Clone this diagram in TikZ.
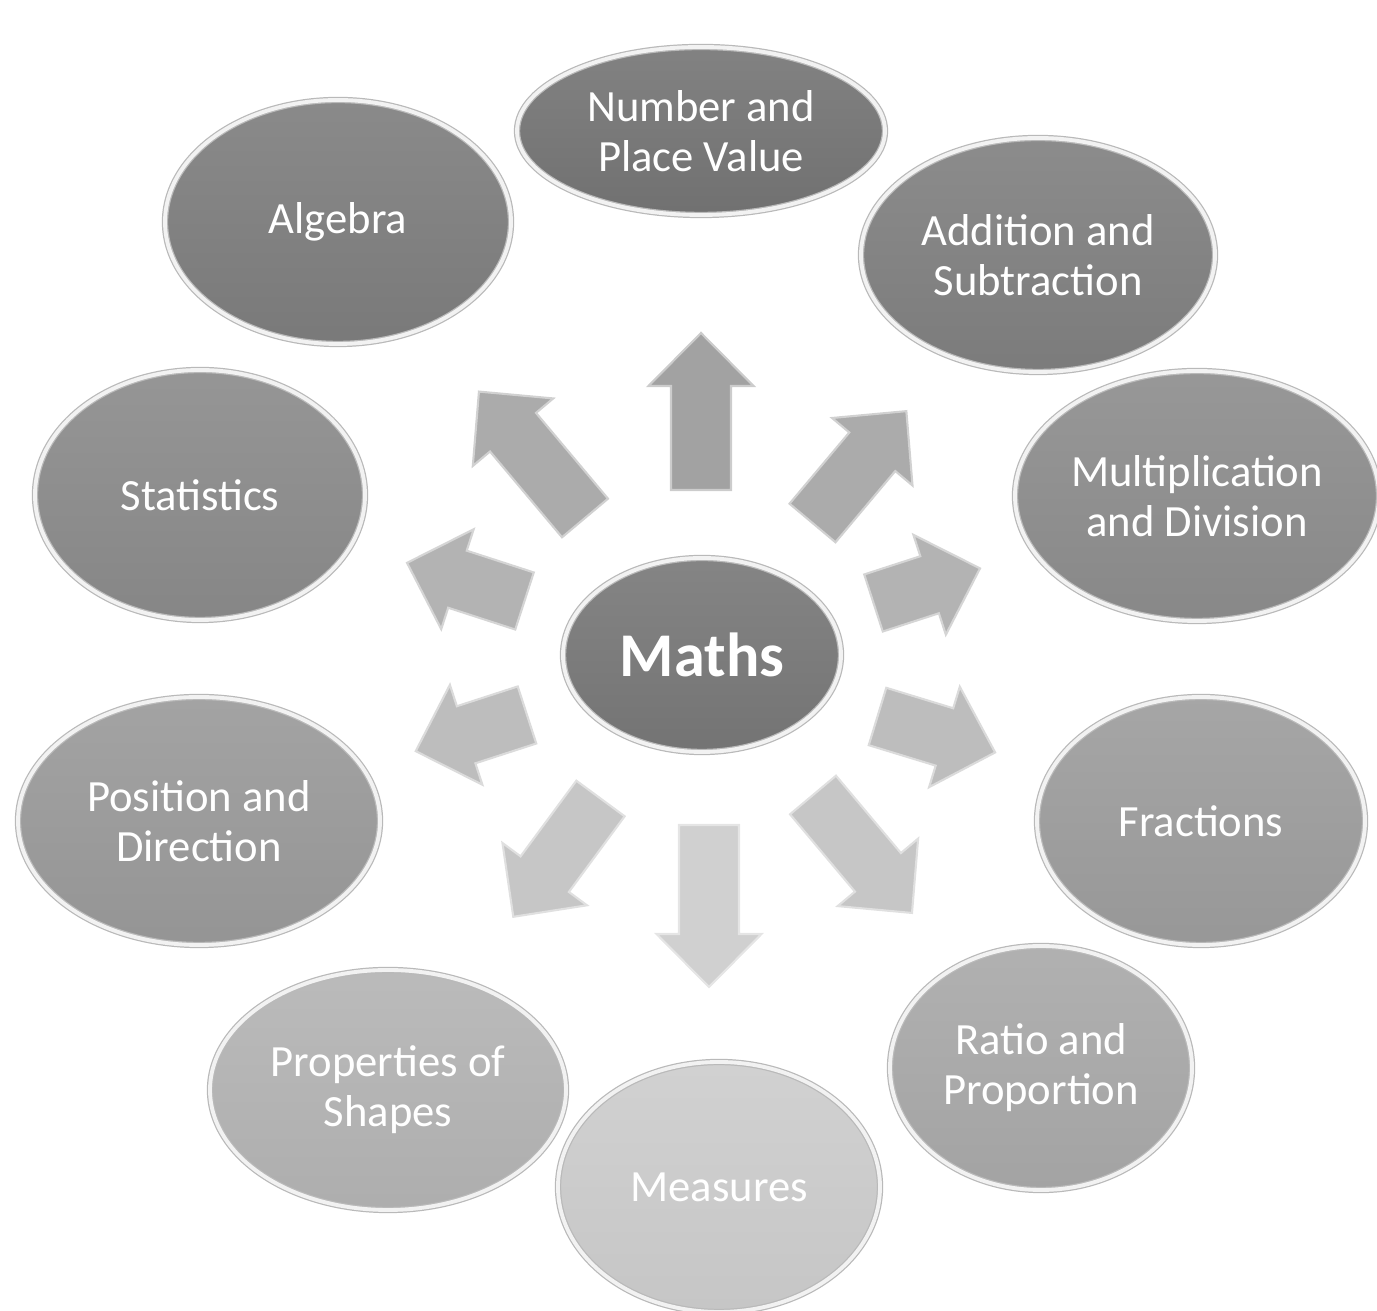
\documentclass[tikz,border=0pt]{standalone}
\usepackage{fontspec}
\setmainfont{Carlito}
\usepackage{xcolor}
\usepackage{tikz}
\usetikzlibrary{shapes.geometric}
\definecolor{gris1}{HTML}{747474}
\definecolor{gris2}{HTML}{7D7D7D}
\definecolor{gris3}{HTML}{7F7F7F}
\definecolor{gris4}{HTML}{8A8A8A}
\definecolor{gris5}{HTML}{8C8C8C}
\definecolor{gris6}{HTML}{999999}
\definecolor{gris7}{HTML}{9C9C9C}
\definecolor{gris8}{HTML}{B3B3B3}
\definecolor{gris9}{HTML}{A8A8A8}
\definecolor{gris10}{HTML}{CCCCCC}
\definecolor{centre}{HTML}{777777}
\definecolor{flA}{HTML}{A2A2A2}
\definecolor{flB}{HTML}{ABABAB}
\definecolor{flC}{HTML}{B3B3B3}
\definecolor{flD}{HTML}{BDBDBD}
\definecolor{flE}{HTML}{C6C6C6}
\definecolor{flF}{HTML}{D0D0D0}
\tikzset{
  bulle/.style={ellipse, inner sep=0pt, align=center, text=white,
    top color=#1!90!white, bottom color=#1!97!black,
    draw=gray!55, double=white!90!gray, double distance=1.1pt, line width=0.35pt,
    font=\fontsize{12.7}{14.2}\selectfont},
  fleche/.style={fill=#1, draw=#1!55!white, line width=0.6pt, line join=miter},
}

\begin{document}
\begin{tikzpicture}
    \useasboundingbox (0,0) rectangle (13.77,13.11);
    % Fleches
    \foreach \x/\y/\ang/\lon/\col in {7.01/8.21/90/1.57/flA, 8.125/7.88/50/1.46/flB,
        8.735/7.08/18/1.12/flC, 8.775/5.945/-17/1.23/flD, 8.13/5.16/-50/1.54/flE,
        7.09/4.86/-90/1.62/flF, 6.005/5.125/-126.4/1.47/flE, 5.27/5.96/198/1.17/flD,
        5.245/7.10/162/1.235/flC, 5.85/7.93/130/1.65/flB} {
      \begin{scope}[shift={(\x,\y)}, rotate=\ang]
        \draw[fleche=\col] (0,-0.3) -- ({\lon-0.53},-0.3) -- ({\lon-0.53},-0.525) -- (\lon,0)
          -- ({\lon-0.53},0.525) -- ({\lon-0.53},0.3) -- (0,0.3) -- cycle;
      \end{scope}
    }
    % Bulles
    \node[bulle=centre, minimum width=2.78cm, minimum height=1.94cm,
          font=\fontsize{17.7}{20}\selectfont\bfseries] (maths) at (7.02,6.56) {Maths};
    \node[bulle=gris1, minimum width=3.68cm, minimum height=1.68cm] (nombre) at (7.01,11.80) {Number and\\ Place Value};
    \node[bulle=gris2, minimum width=3.46cm, minimum height=2.44cm] (algebre) at (3.38,10.89) {Algebra};
    \node[bulle=gris3, minimum width=3.54cm, minimum height=2.34cm] (addition) at (10.38,10.56) {Addition and\\ Subtraction};
    \node[bulle=gris4, minimum width=3.30cm, minimum height=2.50cm] (stats) at (2.00,8.16) {Statistics};
    \node[bulle=gris5, minimum width=3.64cm, minimum height=2.50cm] (multiplication) at (11.97,8.15) {Multiplication\\ and Division};
    \node[bulle=gris6, minimum width=3.62cm, minimum height=2.48cm] (position) at (1.99,4.90) {Position and\\ Direction};
    \node[bulle=gris7, minimum width=3.28cm, minimum height=2.48cm] (fractions) at (12.01,4.90) {Fractions};
    \node[bulle=gris8, minimum width=3.56cm, minimum height=2.40cm] (formes) at (3.88,2.21) {Properties of\\ Shapes};
    \node[bulle=gris9, minimum width=3.02cm, minimum height=2.44cm] (ratio) at (10.41,2.43) {Ratio and\\ Proportion};
    \node[bulle=gris10, minimum width=3.22cm, minimum height=2.50cm] (mesures) at (7.19,1.24) {Measures};
\end{tikzpicture}
\end{document}
